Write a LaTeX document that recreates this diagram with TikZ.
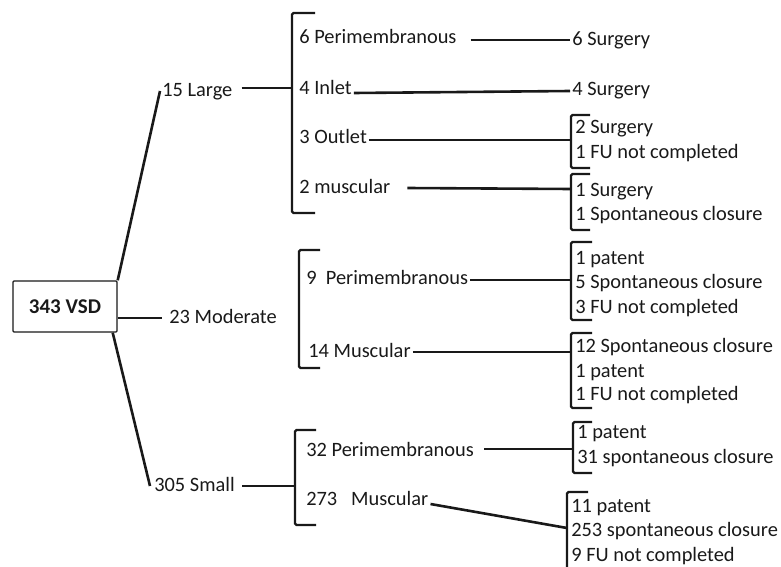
\documentclass[tikz,border=0pt]{standalone}
\usepackage{fontspec}
\setmainfont{Carlito}

\begin{document}
\begin{tikzpicture}[x=1pt,y=-1pt,line width=2.6pt,color=black!90,
                    lbl/.style={anchor=west,inner sep=1pt,text height=15pt,text depth=4pt,
                                font=\fontsize{20.4}{25}\selectfont},
                    brk/.style={line width=2.4pt,rounded corners=1.5pt}]
  \useasboundingbox (0,0) rectangle (781,567);
  \node[draw,line width=1.4pt,rounded corners=1pt,minimum width=104pt,minimum height=51pt,
        font=\bfseries\fontsize{21}{25}\selectfont] (vsd) at (65,306.5) {343 VSD};
  \node[lbl] (large) at (160,91) {15 Large};
  \node[lbl] (moderate) at (167,318) {23 Moderate};
  \node[lbl] (small) at (152,486) {305 Small};
  % second level
  \node[lbl] (pm1) at (297,38) {6 Perimembranous};
  \node[lbl] (in1) at (297,89) {4 Inlet};
  \node[lbl] (out1) at (297,138) {3 Outlet};
  \node[lbl] (mu1) at (297,188) {2 muscular};
  \node[lbl] (pm2) at (304,279) {9\ \ Perimembranous};
  \node[lbl] (mu2) at (306,352) {14 Muscular};
  \node[lbl] (pm3) at (304,451) {32 Perimembranous};
  \node[lbl] (mu3) at (304,500) {273\ \ \ Muscular};
  % outcomes
  \node[lbl] (sg1) at (570,40) {6 Surgery};
  \node[lbl] (sg2) at (570,90) {4 Surgery};
  \node[lbl] (o3a) at (573,128) {2 Surgery};
  \node[lbl] (o3b) at (573,153) {1 FU not completed};
  \node[lbl] (o4a) at (573,191) {1 Surgery};
  \node[lbl] (o4b) at (573,215) {1 Spontaneous closure};
  \node[lbl] (o5a) at (573,259) {1 patent};
  \node[lbl] (o5b) at (573,283) {5 Spontaneous closure};
  \node[lbl] (o5c) at (573,308) {3 FU not completed};
  \node[lbl] (o6a) at (573,347) {12 Spontaneous closure};
  \node[lbl] (o6b) at (573,372) {1 patent};
  \node[lbl] (o6c) at (573,395) {1 FU not completed};
  \node[lbl] (o7a) at (575,433) {1 patent};
  \node[lbl] (o7b) at (575,458) {31 spontaneous closure};
  \node[lbl] (o8a) at (569,507) {11 patent};
  \node[lbl] (o8b) at (569,531) {253 spontaneous closure};
  \node[lbl] (o8c) at (569,556) {9 FU not completed};
  % brackets
  \coordinate (bl) at (292,88);
  \coordinate (bs) at (295,486);
  \coordinate (b3) at (571,140);
  \coordinate (b4) at (571,189);
  \coordinate (b5) at (571,280);
  \coordinate (b6) at (571,352);
  \coordinate (b7) at (573,449);
  \coordinate (b8) at (567,528);
  \draw[brk] (315,13) -| (292,213) -- (315,213);
  \draw[brk] (320,250) -| (299,368) -- (320,368);
  \draw[brk] (316,430) -| (295,525) -- (316,525);
  \draw[brk] (590,115) -| (571,168) -- (590,168);
  \draw[brk] (590,174) -| (571,230) -- (590,230);
  \draw[brk] (592,242) -| (571,320) -- (592,320);
  \draw[brk] (592,333) -| (571,408) -- (592,408);
  \draw[brk] (592,422) -| (573,473) -- (592,473);
  \draw[brk] (588,492) -| (567,570);
  % connectors
  \draw (vsd.north east) -- (large.west);
  \draw (vsd.east |- moderate.west) -- ([xshift=-5pt]moderate.west);
  \draw ([xshift=-5pt]vsd.south east) -- ([xshift=-2pt]small.west);
  \draw ([xshift=7pt]large.east |- bl) -- (bl);
  \draw ([xshift=5pt]small.east |- bs) -- (bs);
  \draw ([xshift=12pt]pm1.east |- sg1.west) -- (sg1.west);
  \draw ([yshift=-4pt]in1.east) -- ([yshift=-1pt]sg2.west);
  \draw ([yshift=-2pt]out1.east) -- (b3);
  \draw ([xshift=15pt]mu1.east) -- (b4);
  \draw (pm2.east |- b5) -- (b5);
  \draw (mu2.east) -- (b6);
  \draw ([xshift=8pt]pm3.east |- b7) -- (b7);
  \draw ([yshift=-4pt]mu3.east) -- (b8);
\end{tikzpicture}
\end{document}
